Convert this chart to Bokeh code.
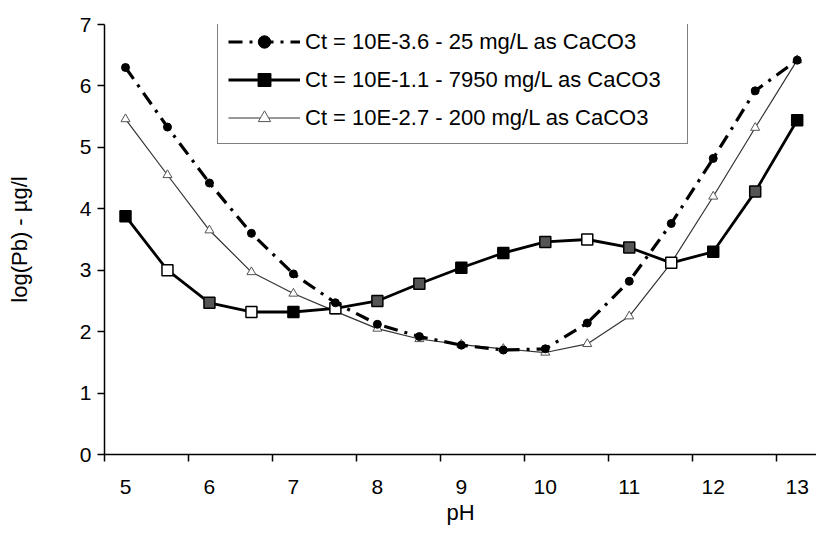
from bokeh.plotting import figure
from bokeh.models import (FixedTicker, Range1d, Legend, LegendItem, ColumnDataSource)
from bokeh.embed import file_html
from bokeh.resources import INLINE

# ---- data ----
ph = [5.0, 5.5, 6.0, 6.5, 7.0, 7.5, 8.0, 8.5, 9.0, 9.5, 10.0, 10.5, 11.0, 11.5, 12.0, 12.5, 13.0]
ct_36 = [6.30, 5.33, 4.42, 3.60, 2.94, 2.47, 2.12, 1.92, 1.78, 1.70, 1.72, 2.14, 2.82, 3.76, 4.82, 5.92, 6.42]
ct_11 = [3.88, 3.00, 2.47, 2.32, 2.32, 2.38, 2.50, 2.78, 3.04, 3.28, 3.46, 3.50, 3.37, 3.12, 3.30, 4.28, 5.44]
ct_27 = [5.46, 4.55, 3.65, 2.97, 2.62, 2.33, 2.05, 1.88, 1.79, 1.72, 1.66, 1.80, 2.25, 3.12, 4.20, 5.32, 6.42]
x_tick_labels = ["5", "6", "7", "8", "9", "10", "11", "12", "13"]
y_ticks = [0, 1, 2, 3, 4, 5, 6, 7]
series_names = ["Ct = 10E-3.6 - 25 mg/L as CaCO3",
                "Ct = 10E-1.1 - 7950 mg/L as CaCO3",
                "Ct = 10E-2.7 - 200 mg/L as CaCO3"]

# style only: fills of the (scanned, mixed) square markers
square_fill = ["black", "white", "#555555", "white", "black", "white", "#555555", "#555555",
               "black", "black", "#555555", "white", "#555555", "white", "black", "#555555", "black"]

FONT = "Liberation Sans"
TICK_FS = "21px"
TITLE_FS = "22px"

p = figure(frame_width=712, frame_height=430,
           x_range=Range1d(4.75, 13.23), y_range=Range1d(0, 7),
           output_backend="svg", toolbar_location=None,
           min_border_left=104, min_border_right=0, min_border_top=24, min_border_bottom=8,
           background_fill_color="white", border_fill_color="white")
p.grid.visible = False
p.outline_line_color = None

# x axis: labels at category centres, tick marks (minor) at category boundaries
half_step = (ph[1] - ph[0]) / 2
xa = p.xaxis[0]
xa.ticker = FixedTicker(ticks=[float(t) for t in x_tick_labels],
                        minor_ticks=[float(t) - half_step for t in x_tick_labels])
xa.major_label_overrides = {float(t): t for t in x_tick_labels}
xa.major_tick_out = 0
xa.major_tick_in = 0
xa.major_tick_line_color = None
xa.minor_tick_out = 7
xa.minor_tick_in = 0
xa.minor_tick_line_color = "black"
xa.minor_tick_line_width = 1.5
xa.axis_line_color = "black"
xa.axis_line_width = 1.5
xa.major_label_standoff = 18
xa.major_label_text_font = FONT
xa.major_label_text_font_size = TICK_FS
xa.major_label_text_color = "black"
xa.axis_label = "pH"
xa.axis_label_text_font = FONT
xa.axis_label_text_font_size = TITLE_FS
xa.axis_label_text_font_style = "normal"
xa.axis_label_text_color = "black"
xa.axis_label_standoff = 3

ya = p.yaxis[0]
ya.ticker = FixedTicker(ticks=y_ticks)
ya.major_tick_out = 7
ya.major_tick_in = 0
ya.minor_tick_out = 0
ya.minor_tick_in = 0
ya.axis_line_color = "black"
ya.axis_line_width = 1.5
ya.major_tick_line_color = "black"
ya.major_tick_line_width = 1.5
ya.major_label_standoff = 6
ya.major_label_text_font = FONT
ya.major_label_text_font_size = TICK_FS
ya.major_label_text_color = "black"
ya.axis_label = "log(Pb) - µg/l"
ya.axis_label_text_font = FONT
ya.axis_label_text_font_size = TITLE_FS
ya.axis_label_text_font_style = "normal"
ya.axis_label_text_color = "black"
ya.axis_label_standoff = 45

src = ColumnDataSource(dict(ph=ph, ct_36=ct_36, ct_11=ct_11, ct_27=ct_27, sq_fill=square_fill))

# thin triangle series (drawn first, underneath)
l3 = p.line("ph", "ct_27", source=src, line_color="#333333", line_width=1.2)
m3 = p.scatter("ph", "ct_27", source=src, marker="triangle", size=9,
               fill_color="white", line_color="#555555", line_width=1)

# thick solid squares
l2 = p.line("ph", "ct_11", source=src, line_color="black", line_width=2.8)
m2 = p.scatter("ph", "ct_11", source=src, marker="square", size=11,
               fill_color="sq_fill", line_color="black", line_width=1.5)

# dash-dot circles
l1 = p.line("ph", "ct_36", source=src, line_color="black", line_width=3.2,
            line_dash="14 7 3 7")
m1 = p.scatter("ph", "ct_36", source=src, marker="circle", size=8,
               fill_color="black", line_color="black")

legend = Legend(items=[
    LegendItem(label=series_names[0], renderers=[l1, m1]),
    LegendItem(label=series_names[1], renderers=[l2, m2], index=0),
    LegendItem(label=series_names[2], renderers=[l3, m3]),
], location=(113, 310))
legend.label_text_font = FONT
legend.label_text_font_size = TITLE_FS
legend.label_text_color = "black"
legend.glyph_width = 72
legend.glyph_height = 31
legend.label_height = 31
legend.label_width = 372
legend.label_standoff = 5
legend.spacing = 7
legend.padding = 10
legend.margin = 0
legend.border_line_color = "black"
legend.border_line_width = 1.2
legend.background_fill_color = "white"
legend.background_fill_alpha = 1.0
p.add_layout(legend, "center")

open("out.html", "w").write(file_html(p, INLINE))
